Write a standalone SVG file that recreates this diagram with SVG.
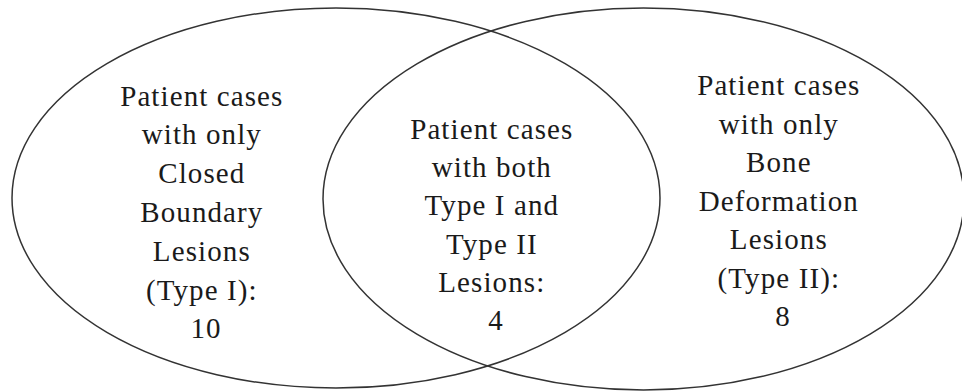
<svg xmlns="http://www.w3.org/2000/svg" width="962" height="391" viewBox="0 0 962 391">
<style>
.set{fill:none;stroke:#333;stroke-width:1.5}
.lbl{font-family:"Liberation Serif","Times New Roman",serif;font-size:29px;fill:#1a1a1a;text-anchor:middle;letter-spacing:1.1px}
</style>
<rect width="962" height="391" fill="#fff"/>
<g id="setA">
<ellipse class="set" cx="336" cy="198" rx="324" ry="190"/>
<text class="lbl" x="206" y="105.5">
<tspan x="206" y="105.5">Patient cases</tspan>
<tspan x="206" y="144.3">with only</tspan>
<tspan x="206" y="183.1">Closed</tspan>
<tspan x="206" y="221.9">Boundary</tspan>
<tspan x="206" y="260.7">Lesions</tspan>
<tspan x="206" y="299.5">(Type I):</tspan>
<tspan x="206" y="338.3">10</tspan>
</text>
</g>
<g id="setB">
<ellipse class="set" cx="643.5" cy="199" rx="320.5" ry="191"/>
<text class="lbl" x="783" y="95">
<tspan x="783" y="95">Patient cases</tspan>
<tspan x="783" y="133.5">with only</tspan>
<tspan x="783" y="172">Bone</tspan>
<tspan x="783" y="210.5">Deformation</tspan>
<tspan x="783" y="249">Lesions</tspan>
<tspan x="783" y="287.5">(Type II):</tspan>
<tspan x="783" y="326">8</tspan>
</text>
</g>
<g id="intersection">
<text class="lbl" x="496" y="139">
<tspan x="496" y="139">Patient cases</tspan>
<tspan x="496" y="177.2">with both</tspan>
<tspan x="496" y="215.4">Type I and</tspan>
<tspan x="496" y="253.6">Type II</tspan>
<tspan x="496" y="291.8">Lesions:</tspan>
<tspan x="496" y="330">4</tspan>
</text>
</g>
<g id="connectors"/>
</svg>
